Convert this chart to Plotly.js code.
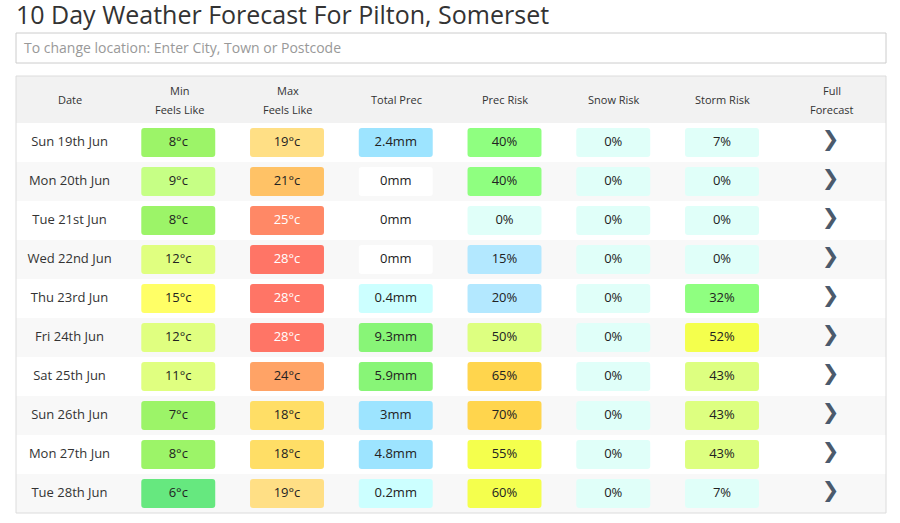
<!DOCTYPE html>
<html>
<head>
<meta charset="utf-8">
<script src="https://cdn.plot.ly/plotly-3.0.1.min.js"></script>
<style>html,body{margin:0;padding:0;background:#fff;}#chart{width:900px;height:523px;}</style>
</head>
<body>
<div id="chart"></div>
<script>
// ---- data ----
const dates = ["Sun 19th Jun","Mon 20th Jun","Tue 21st Jun","Wed 22nd Jun","Thu 23rd Jun","Fri 24th Jun","Sat 25th Jun","Sun 26th Jun","Mon 27th Jun","Tue 28th Jun"];
const minFeels = [8, 9, 8, 12, 15, 12, 11, 7, 8, 6];
const maxFeels = [19, 21, 25, 28, 28, 28, 24, 18, 18, 19];
const totalPrec = [2.4, 0, 0, 0, 0.4, 9.3, 5.9, 3, 4.8, 0.2];
const precRisk = [40, 40, 0, 15, 20, 50, 65, 70, 55, 60];
const snowRisk = [0, 0, 0, 0, 0, 0, 0, 0, 0, 0];
const stormRisk = [7, 0, 0, 0, 32, 52, 43, 43, 43, 7];
const headers = [["Date"],["Min","Feels Like"],["Max","Feels Like"],["Total Prec"],["Prec Risk"],["Snow Risk"],["Storm Risk"],["Full","Forecast"]];
const titleText = "10 Day Weather Forecast For Pilton, Somerset";
const placeholder = "To change location: Enter City, Town or Postcode";

// ---- colour scales (value -> colour) ----
function tempColor(t){
  if (t<=6) return "#66e87f";
  if (t<=8) return "#9cf468";
  if (t<=10) return "#c6ff85";
  if (t<=13) return "#e0ff80";
  if (t<=16) return "#ffff66";
  if (t<=18) return "#ffde66";
  if (t<=20) return "#ffdf85";
  if (t<=22) return "#ffc266";
  if (t<=24) return "#ffa366";
  if (t<=26) return "#ff8866";
  return "#ff7566";
}
function tempText(t){ return t>=25 ? "#ffffff" : "#222222"; }
function precColor(p){
  if (p<=0) return "#ffffff";
  if (p<1) return "#ccffff";
  if (p<5) return "#9de4ff";
  return "#88f577";
}
function riskColor(r){
  if (r<10) return "#e0fff9";
  if (r<30) return "#b3e8ff";
  if (r<42) return "#8fff80";
  if (r<51) return "#ddff80";
  if (r<62) return "#f4ff4d";
  return "#ffd54d";
}

// ---- geometry helpers (in axis units) ----
const nRows = dates.length;
const headerH = 47/39;
const boxHW = 0.34, boxHH = 0.372;
const rx = 3/108.75, ry = 3/39;
function roundRect(x0,x1,y0,y1){
  return `M${x0+rx},${y0} L${x1-rx},${y0} Q${x1},${y0} ${x1},${y0+ry} L${x1},${y1-ry} Q${x1},${y1} ${x1-rx},${y1} L${x0+rx},${y1} Q${x0},${y1} ${x0},${y1-ry} L${x0},${y0+ry} Q${x0},${y0} ${x0+rx},${y0} Z`;
}

const shapes = [];
// header band
shapes.push({type:"rect", xref:"paper", yref:"y", x0:0, x1:1, y0:-headerH, y1:0, fillcolor:"#f2f2f2", line:{width:0}, layer:"below"});
// alternating rows
for (let j=0;j<nRows;j++){
  if (j%2===1) shapes.push({type:"rect", xref:"paper", yref:"y", x0:0, x1:1, y0:j, y1:j+1, fillcolor:"#f8f8f8", line:{width:0}, layer:"below"});
}
// cell boxes
const cols = [
  {vals:minFeels, color:tempColor},
  {vals:maxFeels, color:tempColor},
  {vals:totalPrec, color:precColor},
  {vals:precRisk, color:riskColor},
  {vals:snowRisk, color:riskColor},
  {vals:stormRisk, color:riskColor}
];
const xShift = -0.008;
cols.forEach((c,ci)=>{
  const xc = ci+1+0.5+xShift;
  c.vals.forEach((v,j)=>{
    const yc = j+0.5;
    shapes.push({type:"path", xref:"x", yref:"y", path:roundRect(xc-boxHW, xc+boxHW, yc-boxHH, yc+boxHH), fillcolor:c.color(v), line:{width:0}, layer:"below"});
  });
});
// table outer border
shapes.push({type:"rect", xref:"paper", yref:"paper", x0:0, x1:1, y0:0, y1:1, line:{color:"#dcdcdc", width:1}, fillcolor:"rgba(0,0,0,0)"});
// search input box
shapes.push({type:"rect", xref:"paper", yref:"paper", x0:0, x1:1, y0:(513-63)/437, y1:(513-33)/437, line:{color:"#cccccc", width:1}, fillcolor:"#ffffff"});

const rowY = dates.map((d,j)=>j+0.5);
const font = "Open Sans, sans-serif";
function colTrace(ci, texts, colors){
  return {type:"scatter", mode:"text", x:texts.map(()=>ci+0.5+xShift), y:rowY, text:texts,
    textfont:{family:font, size:13, color:colors}, hoverinfo:"skip", cliponaxis:false};
}
const traces = [
  colTrace(0, dates, dates.map(()=>"#333333")),
  colTrace(1, minFeels.map(v=>v+"°c"), minFeels.map(tempText)),
  colTrace(2, maxFeels.map(v=>v+"°c"), maxFeels.map(tempText)),
  colTrace(3, totalPrec.map(v=>v+"mm"), totalPrec.map(()=>"#222222")),
  colTrace(4, precRisk.map(v=>v+"%"), precRisk.map(()=>"#222222")),
  colTrace(5, snowRisk.map(v=>v+"%"), snowRisk.map(()=>"#222222")),
  colTrace(6, stormRisk.map(v=>v+"%"), stormRisk.map(()=>"#222222")),
  {type:"scatter", mode:"text", x:dates.map(()=>7.49), y:rowY.map(y=>y-0.04), text:dates.map(()=>"❯"),
    textfont:{family:"DejaVu Sans", size:21, color:"#4b5a6c"}, hoverinfo:"skip", cliponaxis:false}
];

// header annotations
const annotations = [];
headers.forEach((h,ci)=>{
  if (h.length===1){
    annotations.push({xref:"x", yref:"y", x:ci+0.5, y:-0.59, text:h[0], showarrow:false, font:{family:font, size:11, color:"#333"}, yanchor:"middle"});
  } else {
    annotations.push({xref:"x", yref:"y", x:ci+0.5, y:-0.846, text:h[0], showarrow:false, font:{family:font, size:11, color:"#333"}, yanchor:"middle"});
    annotations.push({xref:"x", yref:"y", x:ci+0.5, y:-0.359, text:h[1], showarrow:false, font:{family:font, size:11, color:"#333"}, yanchor:"middle"});
  }
});
annotations.push({xref:"paper", yref:"paper", x:6/870, y:(513-48)/437, xanchor:"left", yanchor:"middle", text:placeholder, showarrow:false, font:{family:font, size:14, color:"#999999"}});

const layout = {
  width:900, height:523,
  margin:{l:16, r:14, t:76, b:10},
  paper_bgcolor:"#ffffff", plot_bgcolor:"#ffffff",
  title:{text:titleText, x:16/900, xref:"container", xanchor:"left", y:1-6/523, yref:"container", yanchor:"top", pad:{t:0,b:0,l:0,r:0}, font:{family:font, size:25, color:"#333333"}},
  xaxis:{range:[0,8], visible:false, fixedrange:true},
  yaxis:{range:[nRows, -headerH], visible:false, fixedrange:true},
  showlegend:false,
  shapes:shapes,
  annotations:annotations,
  hovermode:false
};
Plotly.newPlot("chart", traces, layout, {displayModeBar:false, staticPlot:true});
</script>
</body>
</html>
